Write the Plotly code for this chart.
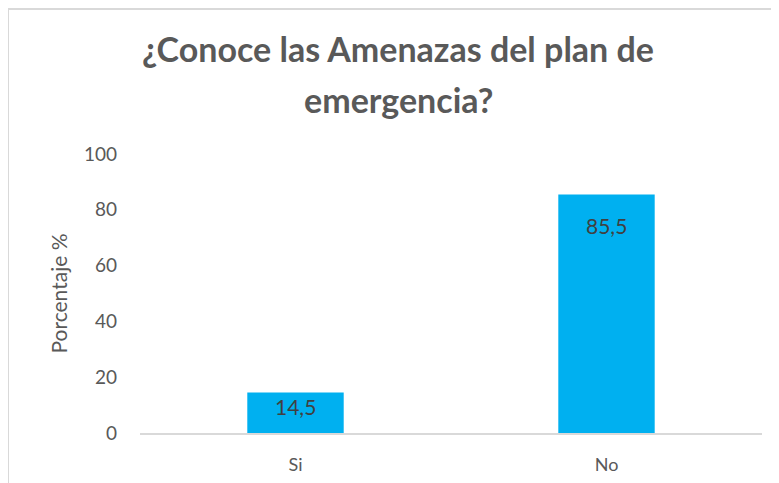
import plotly.graph_objects as go

categories = ["Si", "No"]
values = [14.5, 85.5]
labels = ["14,5", "85,5"]
y_ticks = [0, 20, 40, 60, 80, 100]
title_lines = ["¿Conoce las Amenazas del plan de", "emergencia?"]

BAR = "#00B0F0"
GRAY = "#595959"
FONT = "Lato, 'Open Sans', sans-serif"

FW, FH = 771, 475          # page adds an 8px body margin
L, R, B, T = 132, 754, 425, 146
W, H = R - L, B - T
def px(x):
    return (x - L) / W
def py(y):
    return (B - y) / H

fig = go.Figure()
fig.add_trace(go.Bar(x=categories, y=values, marker=dict(color=BAR, line=dict(width=0)),
                     hoverinfo="skip"))

for c, v, t in zip(categories, values, labels):
    fig.add_annotation(x=c, y=v, text=t, showarrow=False, yanchor="middle",
                       yshift=-31 if v > 30 else -14,
                       font=dict(family=FONT, size=21, color="#404040"))

# title, two lines
title_y = [41, 92]
for line, ty in zip(title_lines, title_y):
    fig.add_annotation(xref="paper", yref="paper", x=px(390), y=py(ty),
                       text=line, showarrow=False, xanchor="center", yanchor="middle",
                       font=dict(family=FONT, size=34, color=GRAY, weight="bold"))

# outer chart border (top and left edges visible)
fig.add_shape(type="line", xref="paper", yref="paper", x0=px(0), x1=px(FW), y0=py(1), y1=py(1),
              line=dict(color="#D9D9D9", width=2))
fig.add_shape(type="line", xref="paper", yref="paper", x0=px(0), x1=px(0), y0=py(1), y1=py(FH),
              line=dict(color="#D9D9D9", width=2))

fig.update_layout(
    width=FW, height=FH,
    margin=dict(l=L, r=FW - R, t=T, b=FH - B, autoexpand=False),
    paper_bgcolor="white", plot_bgcolor="white",
    bargap=0.69,
    showlegend=False,
    xaxis=dict(showgrid=False, showline=True, linecolor="#D9D9D9", linewidth=2,
               ticks="", tickfont=dict(family=FONT, size=18, color=GRAY),
               ticklabelstandoff=14, automargin=False),
    yaxis=dict(range=[0, 100], tickvals=y_ticks, showgrid=False, zeroline=False,
               showline=False, ticks="", tickfont=dict(family=FONT, size=19, color=GRAY),
               ticklabelstandoff=22, automargin=False,
               title=dict(text="Porcentaje %", standoff=10,
                          font=dict(family=FONT, size=21, color=GRAY))),
)

fig.write_html("out.html")
